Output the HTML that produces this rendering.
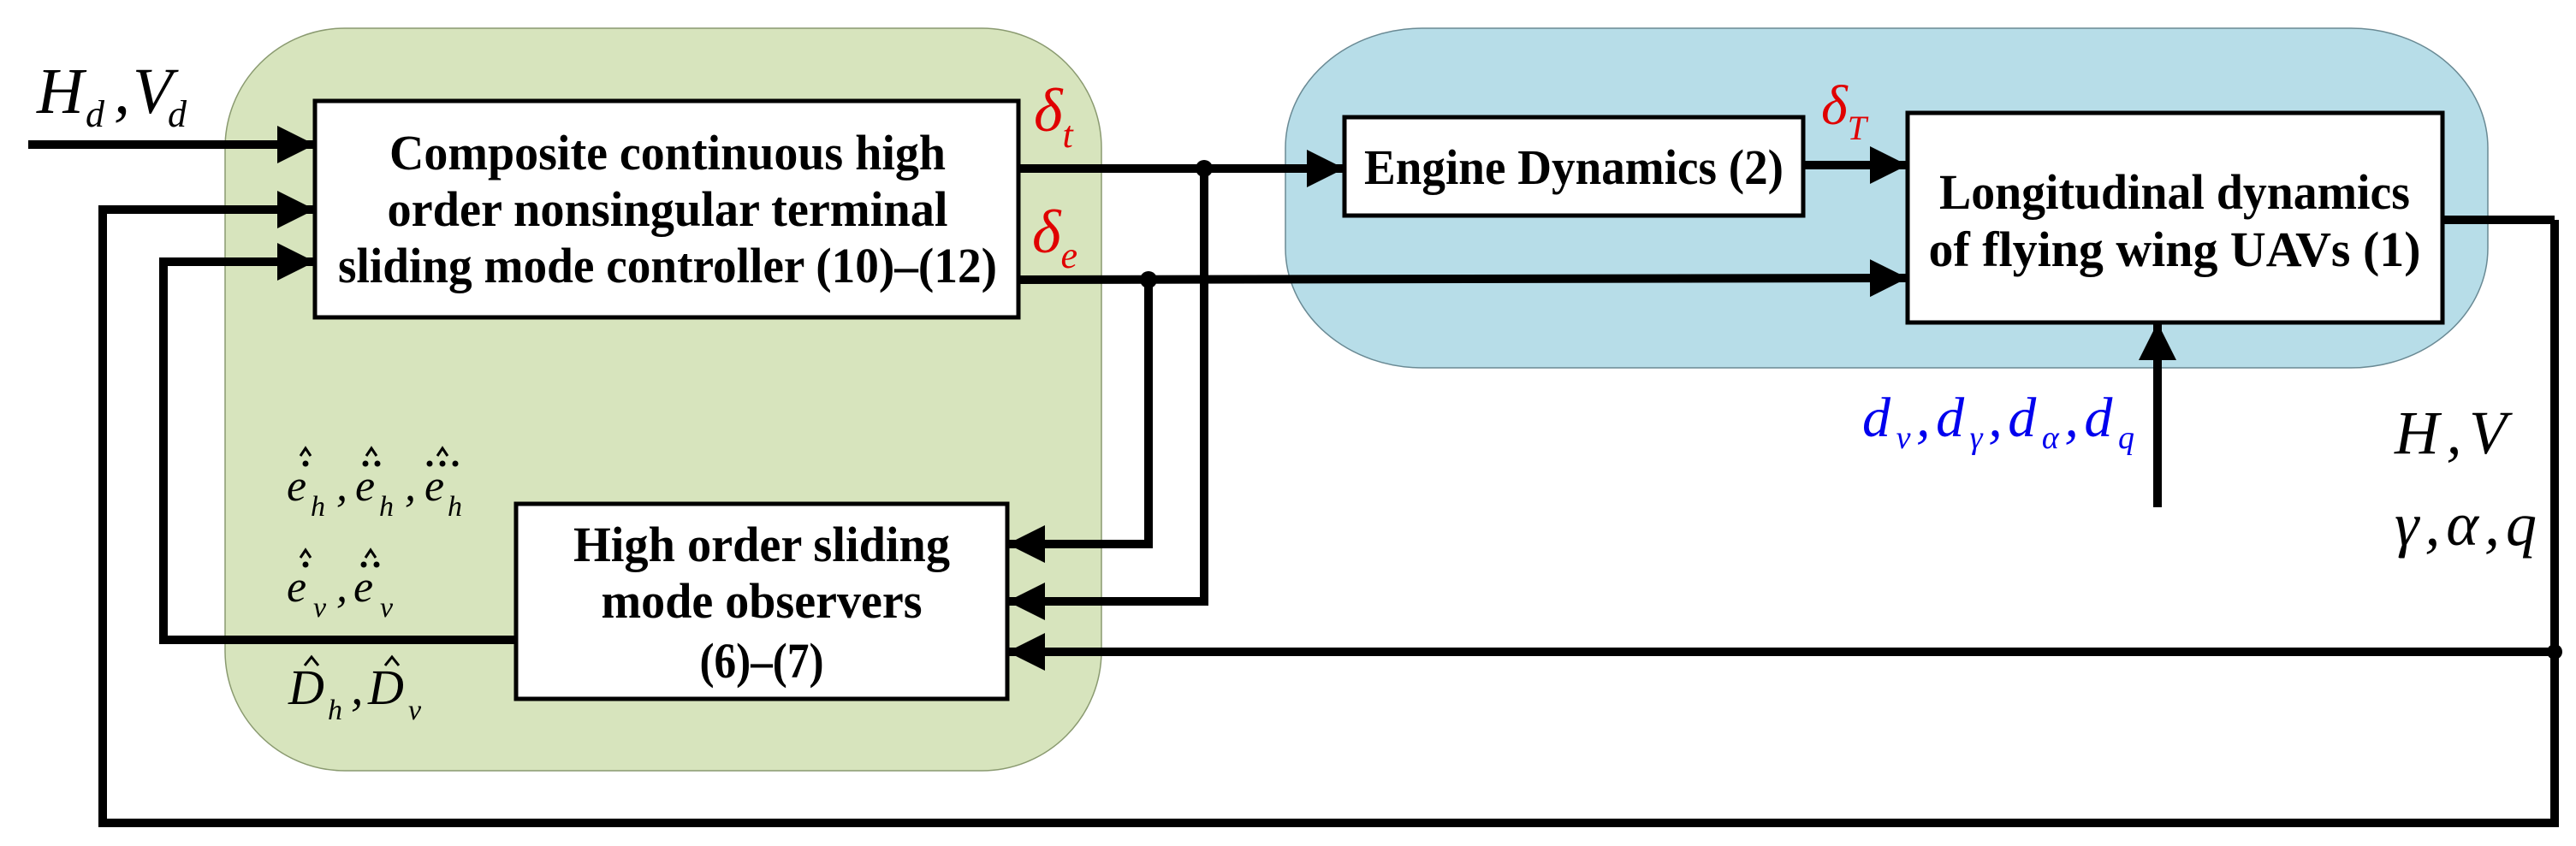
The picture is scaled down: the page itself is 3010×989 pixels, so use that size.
<!DOCTYPE html>
<html><head><meta charset="utf-8"><style>
html,body{margin:0;padding:0;background:#fff;}
svg{display:block;}
.b{font-family:"Liberation Serif",serif;font-weight:bold;font-size:58px;fill:#000;}
.i{font-family:"Liberation Serif",serif;font-style:italic;fill:#000;}
</style></head><body>
<svg width="3010" height="989" viewBox="0 0 3010 989" xmlns="http://www.w3.org/2000/svg">
<defs>
<marker id="ah" markerUnits="userSpaceOnUse" markerWidth="46" markerHeight="46" refX="44" refY="22" orient="auto">
<path d="M0,0 L44,22 L0,44 Z" fill="#000"/></marker>
</defs>
<rect x="263" y="33" width="1024" height="868" rx="140" ry="140" fill="#d7e4bd" stroke="#8a9a70" stroke-width="1.5"/>
<rect x="1502" y="33" width="1405" height="397" rx="160" ry="140" fill="#b7dde8" stroke="#6a8a94" stroke-width="1.5"/>

<g stroke="#000" stroke-width="10" fill="none" stroke-linejoin="miter">
<line x1="33" y1="169" x2="368" y2="169" marker-end="url(#ah)"/>
<polyline points="2985,257 2985,962 120,962 120,245 368,245" marker-end="url(#ah)"/>
<polyline points="603,748 191,748 191,306 368,306" marker-end="url(#ah)"/>
<line x1="1190" y1="197" x2="1571" y2="197" marker-end="url(#ah)"/>
<polyline points="1407,197 1407,703 1177,703" marker-end="url(#ah)"/>
<line x1="1190" y1="327" x2="2229" y2="325" marker-end="url(#ah)"/>
<polyline points="1342,327 1342,636 1177,636" marker-end="url(#ah)"/>
<line x1="2107" y1="193" x2="2229" y2="193" marker-end="url(#ah)"/>
<polyline points="2854,257 2985,257"/>
<line x1="2985" y1="762" x2="1177" y2="762" marker-end="url(#ah)"/>
<line x1="2521" y1="593" x2="2521" y2="377" marker-end="url(#ah)"/>
</g>
<circle cx="1407" cy="197" r="10" fill="#000"/>
<circle cx="1342" cy="327" r="10" fill="#000"/>
<circle cx="2985" cy="762" r="9" fill="#000"/>

<rect x="368" y="118" width="822" height="253" fill="#fff" stroke="#000" stroke-width="5"/>
<rect x="603" y="589" width="574" height="228" fill="#fff" stroke="#000" stroke-width="5"/>
<rect x="1571" y="137" width="536" height="115" fill="#fff" stroke="#000" stroke-width="5"/>
<rect x="2229" y="132" width="625" height="245" fill="#fff" stroke="#000" stroke-width="5"/>

<g class="b" text-anchor="middle">
<text x="780" y="198" textLength="650" lengthAdjust="spacingAndGlyphs">Composite continuous high</text>
<text x="780" y="264" textLength="655" lengthAdjust="spacingAndGlyphs">order nonsingular terminal</text>
<text x="780" y="330" textLength="770" lengthAdjust="spacingAndGlyphs">sliding mode controller (10)–(12)</text>
<text x="890" y="656" textLength="440" lengthAdjust="spacingAndGlyphs">High order sliding</text>
<text x="890" y="722" textLength="375" lengthAdjust="spacingAndGlyphs">mode observers</text>
<text x="890" y="792" textLength="145" lengthAdjust="spacingAndGlyphs">(6)–(7)</text>
<text x="1839" y="215" textLength="490" lengthAdjust="spacingAndGlyphs">Engine Dynamics (2)</text>
<text x="2541" y="244" textLength="550" lengthAdjust="spacingAndGlyphs">Longitudinal dynamics</text>
<text x="2541" y="311" textLength="575" lengthAdjust="spacingAndGlyphs">of  flying wing UAVs (1)</text>
</g>

<g class="i">
<!-- Hd, Vd -->
<text x="43" y="132" font-size="76">H</text>
<text x="100" y="148" font-size="44">d</text>
<text x="133" y="132" font-size="76">,</text>
<text x="155" y="132" font-size="76">V</text>
<text x="196" y="148" font-size="44">d</text>

<text x="1208" y="153" font-size="72" style="fill:#e00000">δ<tspan font-size="44" dy="19">t</tspan></text>
<text x="1206" y="295" font-size="72" style="fill:#e00000">δ<tspan font-size="44" dy="18">e</tspan></text>
<text x="2128" y="145" font-size="66" style="fill:#e00000">δ<tspan font-size="40" dy="18">T</tspan></text>
<text x="2176" y="510" font-size="66" style="fill:#0000ee" textLength="318" lengthAdjust="spacing">d<tspan font-size="38" dy="14">v</tspan><tspan dy="-14">,d</tspan><tspan font-size="38" dy="14">γ</tspan><tspan dy="-14">,d</tspan><tspan font-size="38" dy="14">α</tspan><tspan dy="-14">,d</tspan><tspan font-size="38" dy="14">q</tspan></text>
<text x="2798" y="530" font-size="72" textLength="131" lengthAdjust="spacing">H,V</text>
<text x="2798" y="637" font-size="72" textLength="166" lengthAdjust="spacing">γ,α,q</text>

<!-- e_h row -->
<text x="335" y="585" font-size="52">e</text>
<text x="363" y="603" font-size="34">h</text>
<text x="393" y="585" font-size="52">,</text>
<text x="415" y="585" font-size="52">e</text>
<text x="443" y="603" font-size="34">h</text>
<text x="473" y="585" font-size="52">,</text>
<text x="496" y="585" font-size="52">e</text>
<text x="523" y="603" font-size="34">h</text>
<!-- e_v row -->
<text x="335" y="703" font-size="52">e</text>
<text x="366" y="721" font-size="34">v</text>
<text x="393" y="703" font-size="52">,</text>
<text x="413" y="703" font-size="52">e</text>
<text x="444" y="721" font-size="34">v</text>
<!-- D row -->
<text x="337" y="823" font-size="58">D</text>
<text x="383" y="841" font-size="34">h</text>
<text x="410" y="823" font-size="58">,</text>
<text x="430" y="823" font-size="58">D</text>
<text x="477" y="841" font-size="34">v</text>
</g>
<g fill="#000">
<circle cx="357" cy="542" r="3.5"/>
<circle cx="427" cy="542" r="3.5"/><circle cx="441" cy="542" r="3.5"/>
<circle cx="502" cy="542" r="3.5"/><circle cx="517" cy="542" r="3.5"/><circle cx="532" cy="542" r="3.5"/>
<circle cx="357" cy="660" r="3.5"/>
<circle cx="425" cy="660" r="3.5"/><circle cx="440" cy="660" r="3.5"/>
</g>
<g stroke="#000" stroke-width="3" fill="none">
<polyline points="351,533 357,524 363,533"/>
<polyline points="428,533 434,524 440,533"/>
<polyline points="511,533 517,524 523,533"/>
<polyline points="351,652 357,643 363,652"/>
<polyline points="427,652 433,643 439,652"/>
<polyline points="356,778 364,768 372,778"/>
<polyline points="450,778 458,768 466,778"/>
</g>
</svg>
</body></html>
